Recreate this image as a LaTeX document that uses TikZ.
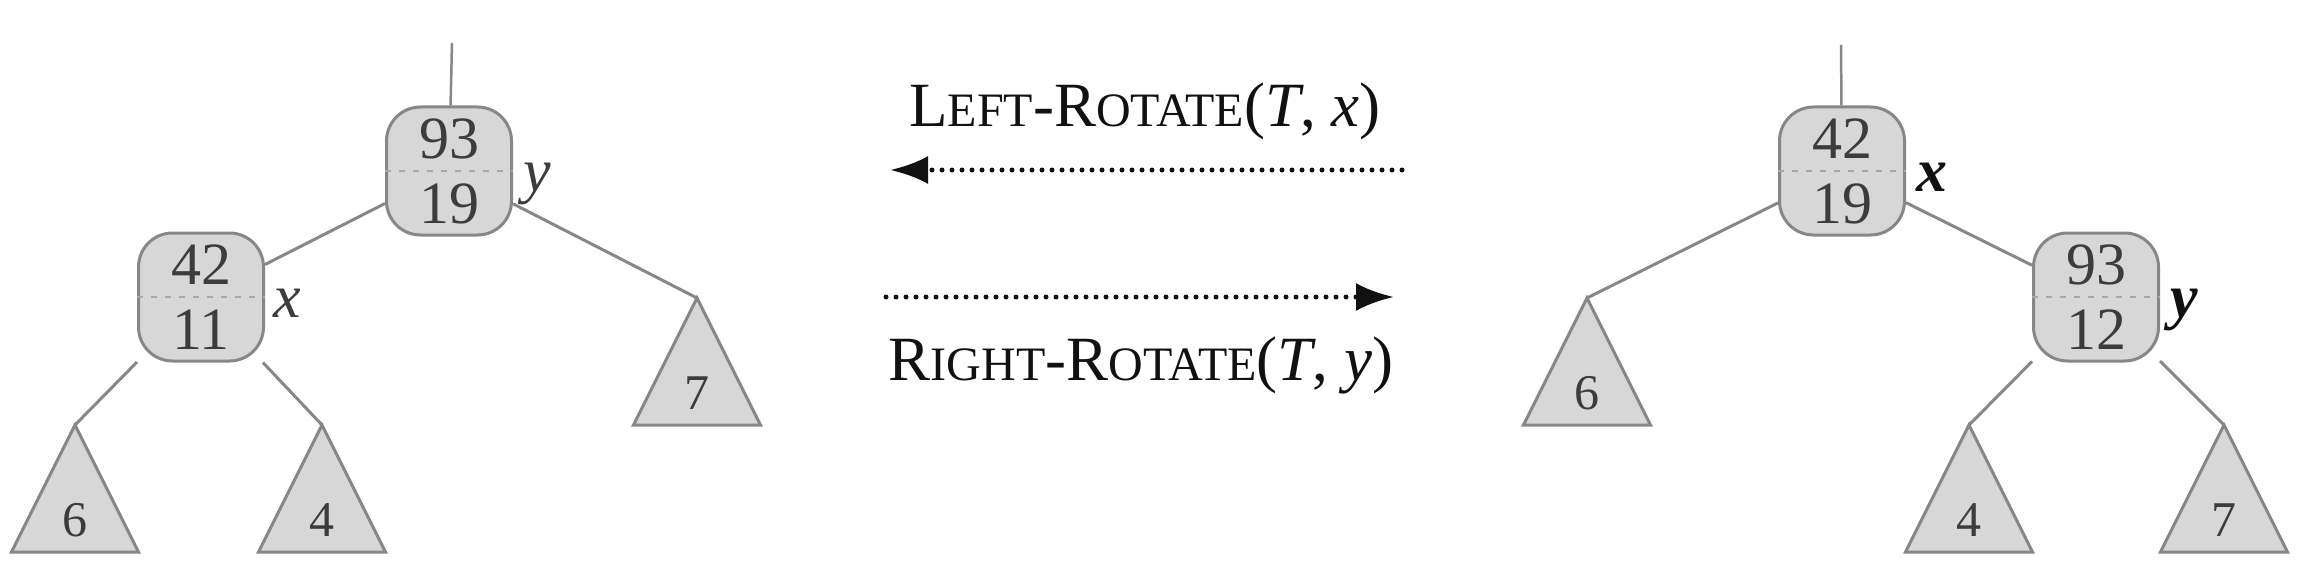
\documentclass[tikz,border=0pt]{standalone}
\usepackage{fontspec}
\setmainfont{Liberation Serif}
\usetikzlibrary{arrows.meta,positioning,calc}
\definecolor{RTFill}{HTML}{D7D7D7}
\definecolor{RTEdge}{HTML}{878787}
\definecolor{RTSep}{HTML}{A8A8A8}
\definecolor{RTText}{HTML}{3C3C3C}
\definecolor{RTInk}{HTML}{111111}
\tikzset{
  branch/.style={RTEdge,line width=3pt},
  parentline/.style={branch,line width=2.5pt},
  keynode/.style={draw=RTEdge,line width=3pt,fill=RTFill,rounded corners=34pt,
                  minimum width=125pt,minimum height=128pt,inner sep=0pt,
                  align=center,text=RTText,font=\fontsize{60}{65}\selectfont},
  sepline/.style={RTSep,line width=2pt,dash pattern=on 6pt off 8pt},
  subtri/.style={draw=RTEdge,line width=3pt,fill=RTFill,line join=miter},
  trilabel/.style={text=RTText,font=\fontsize{50}{52}\selectfont},
  ptrgray/.style={text=RTText,inner sep=0pt,font=\fontsize{62}{70}\selectfont\itshape},
  ptrblack/.style={text=RTInk,inner sep=0pt,font=\fontsize{62}{70}\selectfont\bfseries\itshape},
  opname/.style={text=RTInk,inner sep=0pt,font=\fontsize{63}{70}\selectfont},
  rotarrow/.style={-{Latex[length=38pt,width=28pt]},RTInk,line width=5pt,
                   line cap=round,dash pattern=on 0pt off 10pt},
}
\newcommand{\smallcap}[1]{{\fontsize{48}{50}\selectfont #1}}
\newcommand{\subtree}[4]{%
  \coordinate (#1) at (#2,#3);
  \path[subtri] (#1) -- ++(63.5,127) -- ++(-127,0) -- cycle;
  \node[trilabel] (#1lbl) at ($(#1)+(0,95)$) {#4};%
}

\begin{document}
\begin{tikzpicture}[x=1pt,y=-1pt]
    \useasboundingbox (0,0) rectangle (2302,575);

    % left tree
    \node[keynode] (lroot) at (449,171) {93\\19};
    \node[keynode] (lxnode) at (201,297) {42\\11};
    \subtree{lt6}{75}{425}{6}
    \subtree{lt4}{322}{425}{4}
    \subtree{lt7}{697}{298}{7}
    \coordinate (ltop) at (452,43);
    \draw[parentline] (ltop) -- (lroot);
    \draw[branch] (lroot) -- (lxnode);
    \draw[branch] (lroot) -- (lt7);
    \draw[branch] (lxnode) -- (lt6);
    \draw[branch] (lxnode) -- (lt4);
    \draw[sepline] (lroot.west) -- (lroot.east);
    \draw[sepline] (lxnode.west) -- (lxnode.east);
    \node[ptrgray,anchor=base west] (lyname) at ($(lroot.east)+(10,20)$) {y};
    \node[ptrgray,anchor=base west] (lxname) at ($(lxnode.east)+(8,20)$) {x};

    % rotations
    \node[opname,anchor=base] (leftop) at (1145,127)
      {L\smallcap{EFT}-R\smallcap{OTATE}(\textit{T}, \textit{x})};
    \coordinate (leftTail) at (1402,170);
    \coordinate (leftTip) at (890,170);
    \draw[rotarrow] (leftTail) -- (leftTip);
    \coordinate (rightTail) at (886,297);
    \coordinate (rightTip) at (1394,297);
    \draw[rotarrow] (rightTail) -- (rightTip);
    \node[opname,anchor=base] (rightop) at (1141,380)
      {R\smallcap{IGHT}-R\smallcap{OTATE}(\textit{T}, \textit{y})};

    % right tree
    \node[keynode] (rroot) at (1842,171) {42\\19};
    \node[keynode] (rynode) at (2096,297) {93\\12};
    \subtree{rt6}{1587}{298}{6}
    \subtree{rt4}{1969}{425}{4}
    \subtree{rt7}{2224}{425}{7}
    \coordinate (rtop) at (1841,45);
    \draw[parentline] (rtop) -- (rroot);
    \draw[branch] (rroot) -- (rynode);
    \draw[branch] (rroot) -- (rt6);
    \draw[branch] (rynode) -- (rt4);
    \draw[branch] (rynode) -- (rt7);
    \draw[sepline] (rroot.west) -- (rroot.east);
    \draw[sepline] (rynode.west) -- (rynode.east);
    \node[ptrblack,anchor=base west] (rxname) at ($(rroot.east)+(10,20)$) {x};
    \node[ptrblack,anchor=base west] (ryname) at ($(rynode.east)+(10,20)$) {y};
\end{tikzpicture}
\end{document}
